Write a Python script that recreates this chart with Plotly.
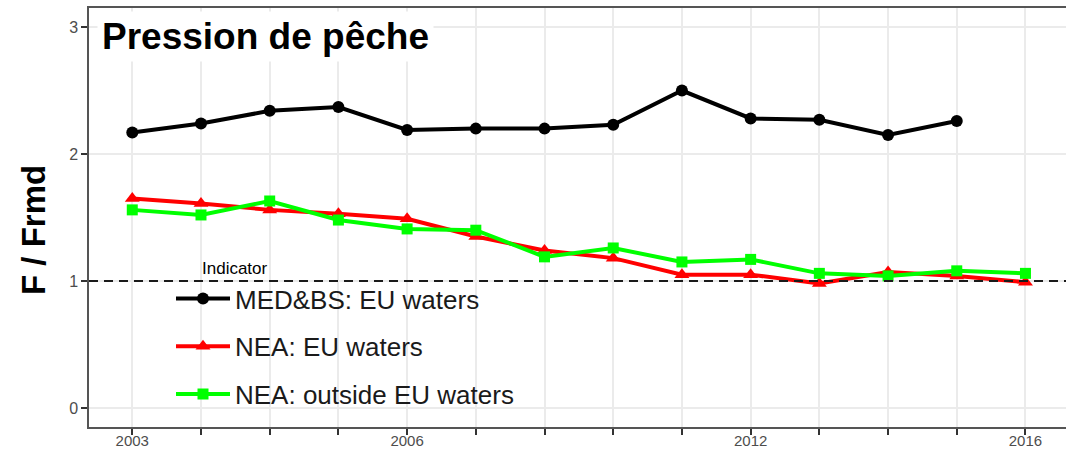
import plotly.graph_objects as go

years = [2003, 2004, 2005, 2006, 2007, 2008, 2009, 2010, 2011, 2012, 2013, 2014, 2015, 2016]
med_bs_years = [2003, 2004, 2005, 2006, 2007, 2008, 2009, 2010, 2011, 2012, 2013, 2014, 2015]
med_bs_eu = [2.17, 2.24, 2.34, 2.37, 2.19, 2.20, 2.20, 2.23, 2.50, 2.28, 2.27, 2.15, 2.26]
nea_eu = [1.65, 1.61, 1.56, 1.53, 1.49, 1.35, 1.24, 1.18, 1.05, 1.05, 0.98, 1.07, 1.04, 0.99]
nea_outside = [1.56, 1.52, 1.63, 1.48, 1.41, 1.40, 1.19, 1.26, 1.15, 1.17, 1.06, 1.04, 1.08, 1.06]
x_tick_text = ["2003", "", "", "", "2006", "", "", "", "", "2012", "", "", "", "2016"]
y_ticks = [0, 1, 2, 3]
reference_level = 1
series_names = ["MED&BS: EU waters", "NEA: EU waters", "NEA: outside EU waters"]

FONT = "Liberation Sans, Arial, Helvetica, sans-serif"

fig = go.Figure()
fig.add_trace(go.Scatter(x=med_bs_years, y=med_bs_eu, name=series_names[0], mode="lines+markers",
                         line=dict(color="#000000", width=4), marker=dict(symbol="circle", size=12),
                         legendgroup="a"))
fig.add_trace(go.Scatter(x=years, y=nea_eu, name=series_names[1], mode="lines+markers",
                         line=dict(color="#FF0000", width=4), marker=dict(symbol="triangle-up", size=13),
                         legendgroup="b"))
fig.add_trace(go.Scatter(x=years, y=nea_outside, name=series_names[2], mode="lines+markers",
                         line=dict(color="#00FF00", width=4), marker=dict(symbol="square", size=11),
                         legendgroup="c"))

# legend background (covers the grid, under the reference line)
fig.add_shape(type="rect", xref="paper", yref="paper", x0=0.083, x1=0.4565, y0=0.029, y1=0.394,
              fillcolor="white", line=dict(width=0), layer="between")
# reference line F/Frmd = 1
fig.add_hline(y=reference_level, line=dict(color="#1a1a1a", width=2, dash="9px,6px"), layer="above")

fig.add_annotation(text="Indicator", xref="paper", yref="paper", x=(200 - 89) / 977, y=(427 - 268) / 419,
                   xanchor="left", yanchor="middle", showarrow=False,
                   font=dict(family=FONT, size=17, color="#000000"))
fig.add_annotation(text="<b>Pression de pêche</b>", xref="paper", yref="paper", x=(97 - 89) / 977,
                   y=(427 - 36) / 419, xanchor="left", yanchor="middle", showarrow=False,
                   bgcolor="white", borderpad=4, font=dict(family=FONT, size=37, color="#000000"))
fig.add_annotation(text="<b>F / Frmd</b>", xref="paper", yref="paper", x=(33 - 89) / 977,
                   y=(427 - 230) / 419, xanchor="center", yanchor="middle", textangle=-90,
                   showarrow=False, font=dict(family=FONT, size=33, color="#000000"))

fig.update_layout(
    width=1066, height=450,
    margin=dict(l=89, r=0, t=8, b=23),
    paper_bgcolor="white", plot_bgcolor="white",
    font=dict(family=FONT),
    showlegend=True,
    legend=dict(x=(171 - 89) / 977, y=(427 - 275) / 419, xanchor="left", yanchor="top",
                bgcolor="rgba(0,0,0,0)", borderwidth=0, itemwidth=54,
                font=dict(family=FONT, size=26, color="#1a1a1a"), tracegroupgap=11,
                traceorder="grouped"),
    xaxis=dict(range=[2002.37, 2016.59], tickvals=years, ticktext=x_tick_text, automargin=False,
               showgrid=True, gridcolor="#EBEBEB", gridwidth=1.5, zeroline=False,
               showline=True, linecolor="#555555", linewidth=1.5, mirror=True,
               ticks="outside", ticklen=6, tickwidth=1.5, tickcolor="#333333",
               ticklabelstandoff=-7,
               tickfont=dict(family=FONT, size=15, color="#4D4D4D")),
    yaxis=dict(range=[-0.15, 3.15], tickvals=y_ticks, showgrid=True, gridcolor="#EBEBEB", gridwidth=1.5,
               zeroline=False, showline=True, linecolor="#555555", linewidth=1.5, automargin=False,
               ticks="outside", ticklen=6, tickwidth=1.5, tickcolor="#333333",
               tickfont=dict(family=FONT, size=16, color="#4D4D4D")),
)

fig.write_html("out.html", config={"displayModeBar": False},
               post_script="document.body.style.margin='0';document.body.style.overflow='hidden';")
